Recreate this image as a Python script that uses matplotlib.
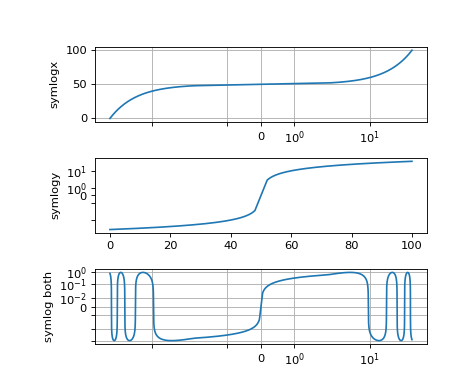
import matplotlib
matplotlib.use("Agg")
import matplotlib.pyplot as plt
import numpy as np
from matplotlib.ticker import LogFormatterSciNotation, MultipleLocator

plt.rcParams['font.size'] = 10.3

# Data (the demo samples a symmetric range and a ramp)
dt = 0.01
x_vals = np.arange(-50.0, 50.0, dt)
y_vals = np.arange(0, 100.0, dt)
sin_vals = np.sin(x_vals / 3.0)

labels = ["symlogx", "symlogy", "symlog both"]


class NoNegFormatter(LogFormatterSciNotation):
    def __call__(self, x, pos=None):
        if x < 0:
            return ""
        return super().__call__(x, pos)


fig, (ax0, ax1, ax2) = plt.subplots(nrows=3, figsize=(474 / 80, 387 / 80), dpi=80)
fig.subplots_adjust(left=0.2, right=0.901, top=0.879, bottom=0.111, hspace=0.48)

ax0.plot(x_vals, y_vals)
ax0.set_xscale('symlog')
ax0.set_ylabel(labels[0], labelpad=5)
ax0.grid()
ax0.yaxis.set_major_locator(MultipleLocator(50))
ax0.xaxis.set_major_formatter(NoNegFormatter(10))

ax1.plot(y_vals, x_vals)
ax1.set_yscale('symlog')
ax1.set_ylabel(labels[1], labelpad=5)
ax1.yaxis.set_major_formatter(NoNegFormatter(10))

ax2.plot(x_vals, sin_vals)
ax2.set_xscale('symlog')
ax2.set_yscale('symlog', linthresh=0.015)
ax2.grid()
ax2.set_ylabel(labels[2], labelpad=5)
ax2.xaxis.set_major_formatter(NoNegFormatter(10))
ax2.yaxis.set_major_formatter(NoNegFormatter(10))

fig.savefig("out.png", dpi=80)
